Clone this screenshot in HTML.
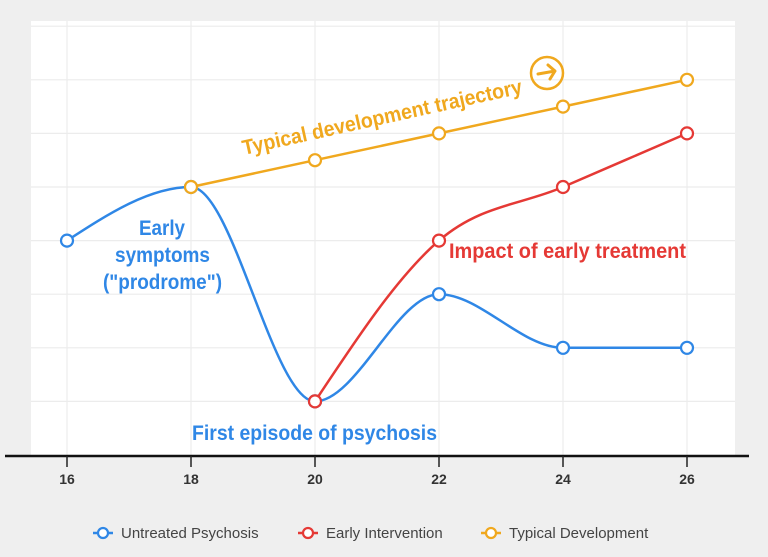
<!DOCTYPE html>
<html><head><meta charset="utf-8"><style>
body{margin:0;background:#efefef;}
svg{display:block;}
.ann{font-family:"Liberation Sans Narrow","Liberation Sans",sans-serif;font-size:21px;font-weight:bold;}
.tick{font-family:"Liberation Sans",sans-serif;font-size:14px;font-weight:bold;fill:#333;}
.leg{font-family:"Liberation Sans",sans-serif;font-size:15px;fill:#444;}
</style></head><body>
<svg id="chart" width="768" height="557" viewBox="0 0 768 557">
<rect x="31" y="21" width="704" height="434" fill="#fff"/>
<g id="grid"></g>
<g id="series"></g>
<line x1="5" y1="456" x2="749" y2="456" stroke="#111" stroke-width="2.5"/>
<g id="ticks"></g>
<g>
<text class="ann" fill="#2f87e6" x="139" y="235" textLength="46" lengthAdjust="spacingAndGlyphs">Early</text>
<text class="ann" fill="#2f87e6" x="115" y="262" textLength="95" lengthAdjust="spacingAndGlyphs">symptoms</text>
<text class="ann" fill="#2f87e6" x="103" y="289" textLength="119" lengthAdjust="spacingAndGlyphs">("prodrome")</text>
<text class="ann" fill="#2f87e6" x="192" y="440" textLength="245" lengthAdjust="spacingAndGlyphs">First episode of psychosis</text>
<text class="ann" fill="#e53935" x="449" y="258" textLength="237" lengthAdjust="spacingAndGlyphs">Impact of early treatment</text>
<text class="ann" fill="#f0a81e" x="0" y="0" textLength="286" lengthAdjust="spacingAndGlyphs" transform="translate(244,155) rotate(-12.5)">Typical development trajectory</text>
<g>
<circle cx="547" cy="73" r="16" fill="none" stroke="#f0a81e" stroke-width="2.5"/>
<path d="M538 74 L555 71 M548 65 L555 71 L550 79" fill="none" stroke="#f0a81e" stroke-width="3" stroke-linecap="round" stroke-linejoin="round"/>
</g>
</g>
<g id="legend"></g>
</svg>
<script>
const years = [16,18,20,22,24,26];
const untreated = [4,5,1,3,2,2];
const earlyYears = [20,22,24,26];
const early = [1,4,5,6];
const typicalYears = [18,20,22,24,26];
const typical = [5,5.5,6,6.5,7];
const gridValues = [1,2,3,4,5,6,7,8];
const tickLabels = ["16","18","20","22","24","26"];
const legendLabels = ["Untreated Psychosis","Early Intervention","Typical Development"];

const NS="http://www.w3.org/2000/svg";
const xs = v => 67 + (v-16)*62;
const ys = v => 455 - v*53.6;
function mk(tag, attrs, parent){const e=document.createElementNS(NS,tag);for(const k in attrs)e.setAttribute(k,attrs[k]);parent.appendChild(e);return e;}

const grid=document.getElementById('grid');
gridValues.forEach(v=>{
  const l=mk('line',{x1:31,x2:735,y1:ys(v),y2:ys(v),stroke:'#ececec','stroke-width':1.2},grid);
  
  
});
years.forEach(v=>{
  const l=mk('line',{x1:xs(v),x2:xs(v),y1:21,y2:455,stroke:'#ececec','stroke-width':1.2},grid);
  
  
});
const ticks=document.getElementById('ticks');
years.forEach((v,i)=>{
  const l=mk('line',{x1:xs(v),x2:xs(v),y1:456,y2:467,stroke:'#222','stroke-width':1.5},ticks);
  
  
  const t=mk('text',{x:xs(v),y:484,'text-anchor':'middle',class:'tick'},ticks);
  t.textContent=tickLabels[i];
  
  
});

function monotonePath(px,py){
  const n=px.length;
  if(n<3){return 'M'+px[0]+','+py[0]+px.slice(1).map((x,i)=>' L'+x+','+py[i+1]).join('');}
  const d=[],m=new Array(n);
  for(let i=0;i<n-1;i++)d.push((py[i+1]-py[i])/(px[i+1]-px[i]));
  for(let i=1;i<n-1;i++){
    if(d[i-1]*d[i]<=0)m[i]=0;
    else{const h0=px[i]-px[i-1],h1=px[i+1]-px[i];const p=(d[i-1]*h1+d[i]*h0)/(h0+h1);
      m[i]=(Math.sign(d[i-1])+Math.sign(d[i]))*Math.min(Math.abs(d[i-1]),Math.abs(d[i]),0.5*Math.abs(p));}
  }
  m[0]=(3*d[0]-m[1])/2; m[n-1]=(3*d[n-2]-m[n-2])/2;
  let s='M'+px[0]+','+py[0];
  for(let i=0;i<n-1;i++){const h=(px[i+1]-px[i])/3;
    s+=' C'+(px[i]+h)+','+(py[i]+m[i]*h)+' '+(px[i+1]-h)+','+(py[i+1]-m[i+1]*h)+' '+px[i+1]+','+py[i+1];}
  return s;
}
const series=document.getElementById('series');
function drawSeries(xv,yv,color,name){
  const g=mk('g',{},series);
  
  
  const px=xv.map(xs),py=yv.map(ys);
  const p=mk('path',{d:monotonePath(px,py),fill:'none',stroke:color,'stroke-width':2.5},g);
  
  
  px.forEach((x,i)=>{
    const c=mk('circle',{cx:x,cy:py[i],r:6,fill:'#fff',stroke:color,'stroke-width':2.2},g);
    
    
  });
}
drawSeries(years,untreated,'#2f87e6','untreated');
drawSeries(earlyYears,early,'#e53935','early-intervention');
drawSeries(typicalYears,typical,'#f0a81e','typical-development');

const legend=document.getElementById('legend');
const legColors=['#2f87e6','#e53935','#f0a81e'];
const legX=[103,308,491];
legendLabels.forEach((lab,i)=>{
  const g=mk('g',{},legend);
  
  
  mk('line',{x1:legX[i]-10,x2:legX[i]+10,y1:533,y2:533,stroke:legColors[i],'stroke-width':2.5},g);
  mk('circle',{cx:legX[i],cy:533,r:5,fill:'#fff',stroke:legColors[i],'stroke-width':2.2},g);
  const t=mk('text',{x:legX[i]+18,y:538,class:'leg'},g);
  t.textContent=lab;
});
</script>
</body></html>
